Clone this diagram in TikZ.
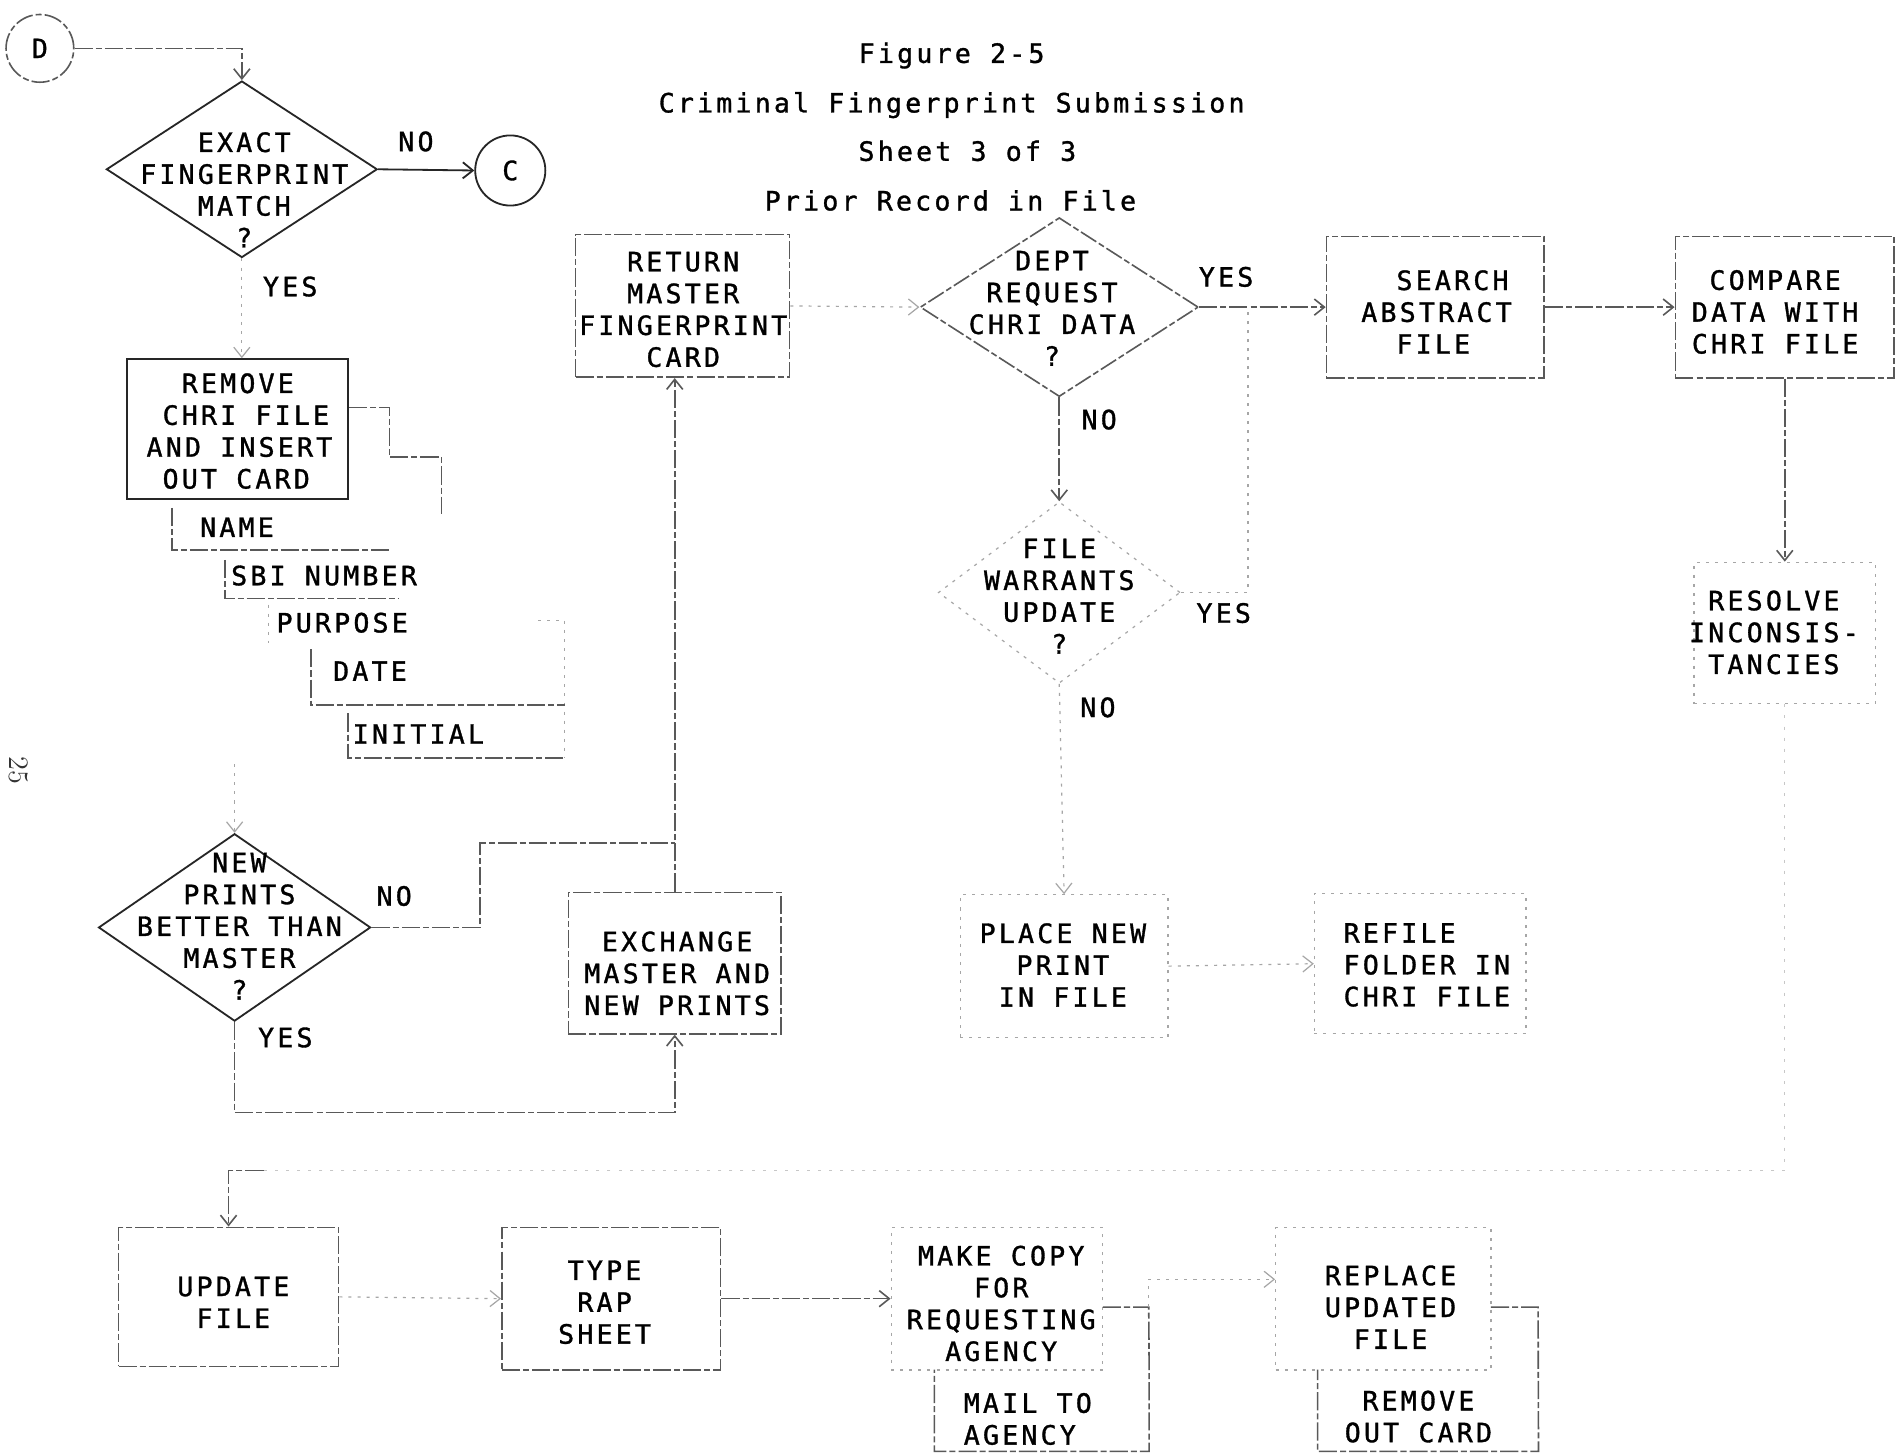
\documentclass[tikz,border=0pt]{standalone}
\usepackage{fontspec}
\newfontfamily\typ[LetterSpace=12,FakeBold=1.2]{DejaVu Sans Mono}
\usetikzlibrary{shapes.geometric,arrows.meta}
\begin{document}
\begin{tikzpicture}[x=0.6pt,y=-0.6pt,
  ink/.style={draw=black!85,line width=0.9pt},
  midl/.style={draw=black!65,line width=0.8pt,dash pattern=on 9pt off 1.5pt on 3pt off 1.5pt},
  faint/.style={draw=black!35,line width=0.6pt,dash pattern=on 1.5pt off 3pt},
  vfaint/.style={draw=black!22,line width=0.6pt,dash pattern=on 1.5pt off 4pt},
  arr/.style={-{Straight Barb[length=5pt,width=8pt]}},
  txt/.style={font=\typ\fontsize{13.2}{15.8}\selectfont,align=center,inner sep=0pt,text=black},
  txtl/.style={txt,align=left},
  bw/.style={minimum width=#1*0.6pt},
  bh/.style={minimum height=#1*0.6pt},
  diam/.style={diamond,inner sep=0pt},
  rect/.style={rectangle,inner sep=0pt}
]
\useasboundingbox[fill=white] (0,0) rectangle (1568,1202);

% title
\node[txt,anchor=base] (t1) at (787,52) {Figure 2-5};
\node[txt,anchor=base] (t2) at (787,93) {Criminal Fingerprint Submission};
\node[txt,anchor=base] (t3) at (800,133) {Sheet 3 of 3};
\node[txt,anchor=base] (t4) at (786,174) {Prior Record in File};

% page number
\node[font=\fontsize{14}{14}\selectfont,rotate=-90,text=black!80,inner sep=0pt] (pg) at (15,637) {25};

% off-page connectors
\node[circle,midl,minimum size=56*0.6pt,txt] (D) at (33,40) {D};
\node[circle,ink,minimum size=58*0.6pt,txt] (C) at (422,141) {C};

% decision 1
\node[diam,ink,bw=224,bh=146] (d1) at (200,140) {};
\node[txt] (d1t) at (202,157) {EXACT\\FINGERPRINT\\MATCH\\?};
\node[txt] (l1) at (344,117) {NO};
\node[txt] (l2) at (240,237) {YES};

% remove chri file
\node[rect,ink,bw=183,bh=116] (remove) at (196.5,355) {};
\node[txtl] (removet) at (198,356.5) {\phantom{XX}REMOVE\\\phantom{X}CHRI FILE\\AND INSERT\\\phantom{X}OUT CARD};

% out card fields
\node[txt] (c1) at (196,436) {NAME};
\node[txt] (c2) at (268,476) {SBI NUMBER};
\node[txt] (c3) at (283,515) {PURPOSE};
\node[txt] (c4) at (306,555) {DATE};
\node[txt] (c5) at (346,607) {INITIAL};
\coordinate (r1) at (322,337);
\coordinate (r2) at (322,378);
\coordinate (r3) at (365,378);
\coordinate (r4) at (365,425);
\draw[midl] (remove.east |- r1) -- (r1) -- (r2) -- (r3) -- (r4);
\draw[midl] (142,420) -- (142,455) -- (322,455);
\draw[midl] (186,463) -- (186,495) -- (330,495);
\draw[faint] (222,500) -- (222,532);
\draw[faint] (445,513) -- (467,513) -- (467,627);
\draw[midl] (257,537) -- (257,583) -- (467,583);
\draw[midl] (288,590) -- (288,627) -- (467,627);

% decision 2
\node[diam,ink,bw=225,bh=155] (d2) at (194,767) {};
\node[txt] (d2t) at (198,766) {NEW\\PRINTS\\BETTER THAN\\MASTER\\?};
\node[txt] (l3) at (326,741) {NO};
\node[txt] (l4) at (236,858) {YES};

% exchange
\node[rect,midl,bw=176,bh=117] (exch) at (558,796.5) {};
\node[txt] (excht) at (560,805) {EXCHANGE\\MASTER AND\\NEW PRINTS};

% return
\node[rect,midl,bw=177,bh=118] (ret) at (564.5,253) {};
\node[txt] (rett) at (565,256) {RETURN\\MASTER\\FINGERPRINT\\CARD};

% decision 3
\node[diam,midl,bw=230,bh=148] (d3) at (876,254) {};
\node[txt] (d3t) at (870,255) {DEPT\\REQUEST\\CHRI DATA\\?};
\node[txt] (l5) at (1014,229) {YES};
\node[txt] (l6) at (909,347) {NO};

% decision 4
\node[diam,faint,bw=200,bh=150] (d4) at (876,490) {};
\node[txt] (d4t) at (876,493) {FILE\\WARRANTS\\UPDATE\\?};
\node[txt] (l7) at (1012,507) {YES};
\node[txt] (l8) at (908,585) {NO};

% search / compare / resolve
\node[rect,midl,bw=180,bh=117] (search) at (1187,254) {};
\node[txtl] (searcht) at (1188,258) {\phantom{XX}SEARCH\\ABSTRACT\\\phantom{XX}FILE};
\node[rect,midl,bw=181,bh=117] (compare) at (1476,254) {};
\node[txt] (comparet) at (1468,258) {COMPARE\\DATA WITH\\CHRI FILE};
\node[rect,faint,bw=150,bh=117] (resolve) at (1476,523.5) {};
\node[txt] (resolvet) at (1467,523) {RESOLVE\\INCONSIS-\\TANCIES};

% place / refile
\node[rect,faint,bw=172,bh=118] (place) at (880,799) {};
\node[txt] (placet) at (879,798) {PLACE NEW\\PRINT\\IN FILE};
\node[rect,faint,bw=175,bh=116] (refile) at (1174.5,797) {};
\node[txtl] (refilet) at (1180,798) {REFILE\\FOLDER IN\\CHRI FILE};

% bottom row
\node[rect,midl,bw=182,bh=115] (update) at (189,1072.5) {};
\node[txt] (updatet) at (193,1077) {UPDATE\\FILE};
\node[rect,midl,bw=181,bh=118] (type) at (505.5,1074) {};
\node[txt] (typet) at (500,1077) {TYPE\\RAP\\SHEET};
\node[rect,faint,bw=175,bh=118] (make) at (824.5,1074) {};
\node[txt] (maket) at (828,1078) {MAKE COPY\\FOR\\REQUESTING\\AGENCY};
\node[rect,faint,bw=178,bh=118] (replace) at (1144,1074) {};
\node[txt] (replacet) at (1150,1081) {REPLACE\\UPDATED\\FILE};
\node[rect,bw=177,bh=67] (mail) at (861.5,1166.5) {};
\node[txtl] (mailt) at (850,1173.5) {MAIL TO\\AGENCY};
\node[rect,bw=182,bh=67] (rmcard) at (1181,1166.5) {};
\node[txt] (rmcardt) at (1173,1171.5) {REMOVE\\OUT CARD};

% junction coordinates
\coordinate (cb) at (194,632);
\coordinate (n1) at (397,767);
\coordinate (j1) at (558,697);
\coordinate (j2) at (558,920);
\coordinate (j3) at (1032,254);
\coordinate (j4) at (1476,968);
\coordinate (j5) at (218,968);
\coordinate (m0) at (912,1081);
\coordinate (m1) at (950,1081);
\coordinate (m2) at (950,1058);
\coordinate (p0) at (1233,1081);
\coordinate (p1) at (1272,1081);

% connectors
\draw[midl,arr] (D.east) -| (d1.north);
\draw[ink,arr] (d1.east) -- (C.west);
\draw[faint,arr] (d1.south) -- (d1.south |- remove.north);
\draw[faint,arr] (cb) -- (d2.north);
\draw[midl] (d2.east) -- (n1) |- (j1);
\draw[midl,arr] (exch.north) -- (j1) -- (j1 |- ret.south);
\draw[midl,arr] (d2.south) |- (j2) -- (exch.south);
\draw[faint,arr] (ret.east) -- (d3.west);
\draw[midl,arr] (d3.east) -- (j3) -- (search.west);
\draw[midl,arr] (search.east) -- (compare.west);
\draw[midl,arr] (compare.south) -- (resolve.north);
\draw[midl,arr] (d3.south) -- (d4.north);
\draw[faint] (d4.east) -| (j3);
\draw[faint,arr] (d4.south) -- (place.north);
\draw[faint,arr] (place.east) -- (refile.west);
\draw[vfaint] (resolve.south) -- (j4) -- (j5);
\draw[midl,arr] (j5) -| (update.north);
\draw[faint,arr] (update.east) -- (type.west);
\draw[midl,arr] (type.east) -- (make.west);
\draw[midl] (m0) -- (m1) -- (mail.north east) -- (mail.south east) -- (mail.south west) -- (mail.north west);
\draw[faint,arr] (m1) -- (m2) -- (m2 -| replace.west);
\draw[midl] (p0) -- (p1) -- (rmcard.south east) -- (rmcard.south west) -- (rmcard.north west);
\end{tikzpicture}
\end{document}
